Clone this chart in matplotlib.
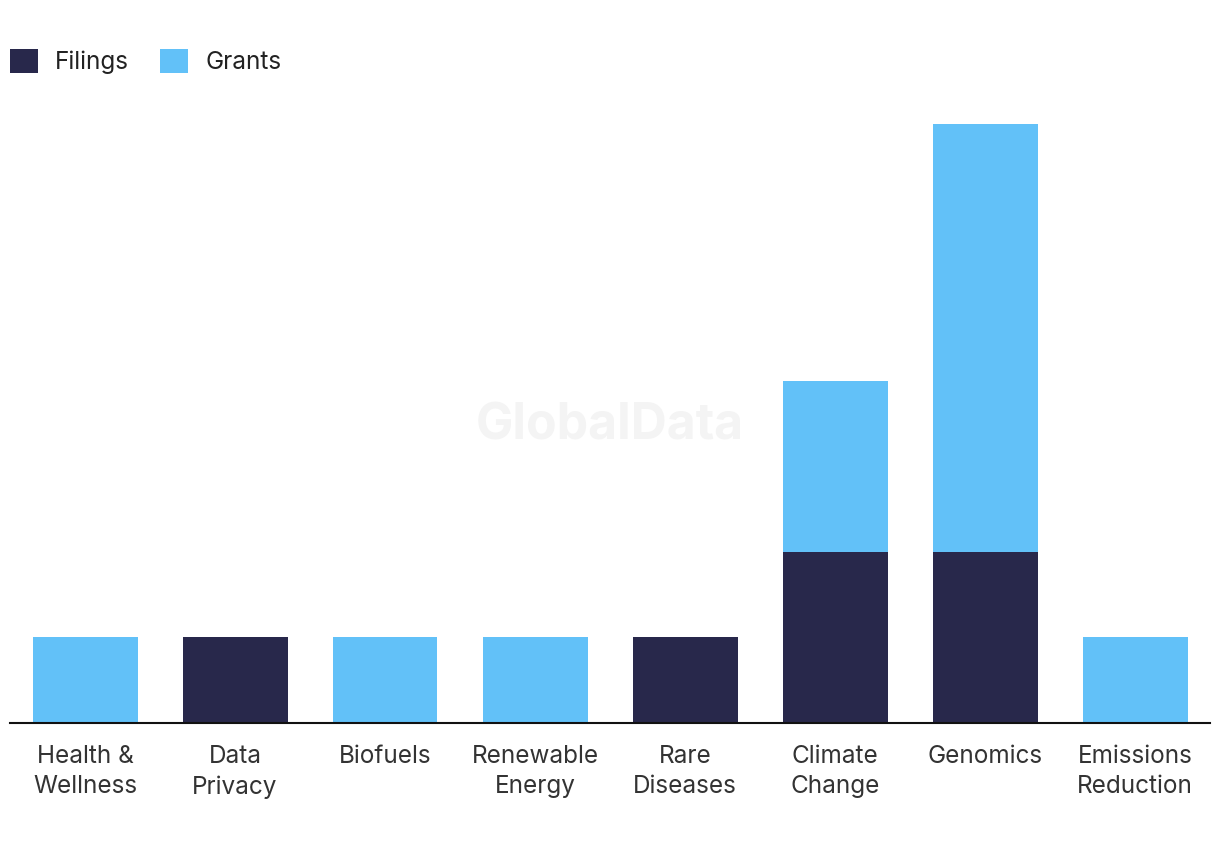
import matplotlib.pyplot as plt
import numpy as np

# --- Data ---
categories = ["Health &\nWellness", "Data\nPrivacy", "Biofuels", "Renewable\nEnergy",
              "Rare\nDiseases", "Climate\nChange", "Genomics", "Emissions\nReduction"]
filings = [0, 1, 0, 0, 1, 2, 2, 0]
grants = [1, 0, 1, 1, 0, 2, 5, 1]

navy = "#28284b"
blue = "#62c1f8"

plt.rcParams['font.family'] = ['Inter', 'DejaVu Sans']

fig = plt.figure(figsize=(12.2, 8.5), dpi=100)
ax = fig.add_axes([10 / 1220, 1 - 723 / 850, 1200 / 1220, (723 - 124) / 850])

x = np.arange(len(categories))
ax.bar(x, filings, width=0.7, color=navy, label="Filings")
ax.bar(x, grants, width=0.7, bottom=filings, color=blue, label="Grants")

ax.set_xlim(-0.5, len(categories) - 0.5)
ax.set_ylim(0, 7)
ax.set_yticks([])
ax.set_xticks(x)
ax.set_xticklabels(categories, fontsize=17.5, color="#333333", linespacing=1.4)
ax.tick_params(axis='x', length=0, pad=16)

for side in ["top", "right", "left"]:
    ax.spines[side].set_visible(False)
ax.spines["bottom"].set_linewidth(1.5)
ax.spines["bottom"].set_color("#111111")

# --- Watermark ---
ax.text(0.5, 0.495, "GlobalData", transform=ax.transAxes, fontsize=36, fontweight='bold',
        color="#f4f4f4", ha='center', va='center', zorder=0)

# --- Legend ---
fig.legend(loc='upper left', bbox_to_anchor=(-0.0098, 0.968), ncol=2, frameon=False,
           fontsize=17.5, handlelength=1.15, handleheight=1.15, handletextpad=0.7,
           columnspacing=1.3, labelcolor="#222222")

fig.savefig("out.png", dpi=100)
